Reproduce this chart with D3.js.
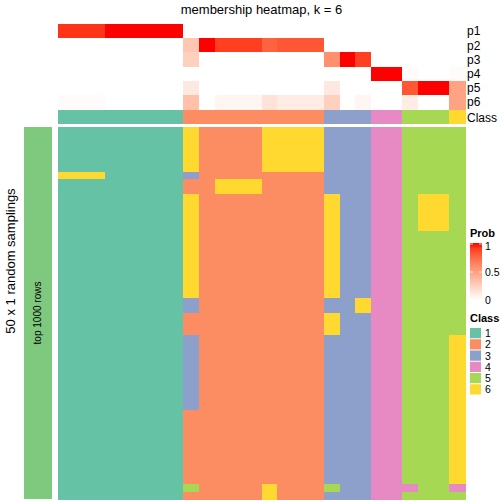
<!DOCTYPE html>
<html><head><meta charset="utf-8">
<script src="https://cdn.jsdelivr.net/npm/d3@7"></script>
<style>body{margin:0;background:#fff}svg{display:block;font-family:"Liberation Sans",Arial,Helvetica,sans-serif}</style>
</head><body><svg id="chart" width="504" height="504"></svg>
<script>
// ---- data ----
const title = "membership heatmap, k = 6";
const probLabels = ["p1","p2","p3","p4","p5","p6"];
const p1 = [0.93,0.93,0.93,1,1,1,1,1, 0,0,0,0,0,0,0,0,0, 0,0,0, 0,0, 0,0,0, 0];
const p2 = [0,0,0,0,0,0,0,0, 0.3,1,0.9,0.9,0.9,0.78,0.82,0.82,0.82, 0,0,0, 0,0, 0,0,0, 0];
const p3 = [0,0,0,0,0,0,0,0, 0.25,0,0,0,0,0,0,0,0, 0.58,1,0.9, 0,0, 0,0,0, 0];
const p4 = [0,0,0,0,0,0,0,0, 0,0,0,0,0,0,0,0,0, 0,0,0, 1,1, 0.02,0,0, 0.02];
const p5 = [0,0,0,0,0,0,0,0, 0.12,0,0,0,0,0,0,0,0, 0.12,0,0, 0,0, 0.82,1,1, 0.48];
const p6 = [0.02,0.02,0.02,0,0,0,0,0, 0.33,0,0.05,0.05,0.05,0.15,0.1,0.1,0.1, 0.25,0,0.05, 0,0, 0.1,0,0, 0.48];
const consensusClass = [1,1,1,1,1,1,1,1, 2,2,2,2,2,2,2,2,2, 3,3,3, 4,4, 5,5,5, 6];
const classLevels = ["1","2","3","4","5","6"];
const classColors = ["#66C2A5","#FC8D62","#8DA0CB","#E78AC3","#A6D854","#FFD92F"];
const probTicks = [0, 0.5, 1];
const samplingLabel = "50 x 1 random samplings";
const rowGroupLabel = "top 1000 rows";
// class of each sample (column) in each of the 50 samplings (rows)
const samplings = [
"11111111622226666333445555","11111111622226666333445555","11111111622226666333445555",
"11111111622226666333445555","11111111622226666333445555","11111111622226666333445555",
"66611111322222222333445555",
"11111111226662222333445555","11111111226662222333445555",
"11111111622222222633445665","11111111622222222633445665","11111111622222222633445665",
"11111111622222222633445665","11111111622222222633445665",
"11111111622222222633445555","11111111622222222633445555","11111111622222222633445555",
"11111111622222222633445555","11111111622222222633445555","11111111622222222633445555",
"11111111622222222633445555","11111111622222222633445555","11111111622222222633445555",
"11111111322222222336445555","11111111322222222336445555",
"11111111222222222633445555","11111111222222222633445555","11111111222222222633445555",
"11111111322222222333445556","11111111322222222333445556","11111111322222222333445556",
"11111111322222222333445556","11111111322222222333445556","11111111322222222333445556",
"11111111322222222333445556","11111111322222222333445556","11111111322222222333445556",
"11111111322222222333445556",
"11111111222222222333445556","11111111222222222333445556","11111111222222222333445556",
"11111111222222222333445556","11111111222222222333445556","11111111222222222333445556",
"11111111222222222333445556","11111111222222222333445556","11111111222222222333445556",
"11111111222222222333445556",
"11111111522226222533444554",
"11111111222226222333445555"
];

// ---- drawing ----
const svg = d3.select("#chart");
const nCols = consensusClass.length;
const cols = d3.range(nCols);
const x = d3.scaleBand().domain(cols).range([58, 465]);
const yProb = d3.scaleBand().domain(probLabels).range([24, 109.3]);
const yClass = [110.3, 124.3];
const yMain = d3.scaleBand().domain(d3.range(samplings.length)).range([127, 499]);
const probColor = d3.scaleLinear().domain([0,1]).range(["#ffffff","#ff0000"]).interpolate(d3.interpolateLab);
const classColor = d3.scaleOrdinal().domain(classLevels).range(classColors);

svg.append("text").attr("x", 261.5).attr("y", 14).attr("text-anchor","middle")
  .attr("font-size", 13).attr("fill","#000").text(title);

const probs = [p1,p2,p3,p4,p5,p6];
probs.forEach((arr, r) => {
  svg.append("g").attr("shape-rendering","crispEdges").selectAll("rect").data(arr).join("rect")
    .attr("x", (d,i) => x(i)).attr("width", x.bandwidth()+0.5)
    .attr("y", yProb(probLabels[r])).attr("height", yProb.bandwidth()+0.5)
    .attr("fill", d => probColor(d));
  svg.append("text").attr("x", 467).attr("y", yProb(probLabels[r]) + yProb.bandwidth()/2 + 4.3)
    .attr("font-size", 12).text(probLabels[r]);
});

svg.append("g").attr("shape-rendering","crispEdges").selectAll("rect").data(consensusClass).join("rect")
  .attr("x", (d,i) => x(i)).attr("width", x.bandwidth()+0.5)
  .attr("y", yClass[0]).attr("height", yClass[1]-yClass[0])
  .attr("fill", d => classColor(String(d)));
svg.append("text").attr("x", 467).attr("y", (yClass[0]+yClass[1])/2 + 4.3)
  .attr("font-size", 12).text("Class");

const cells = [];
samplings.forEach((row, r) => row.split("").forEach((c, i) => cells.push({r, i, c})));
svg.append("g").attr("shape-rendering","crispEdges").selectAll("rect").data(cells).join("rect")
  .attr("x", d => x(d.i)).attr("width", x.bandwidth()+0.5)
  .attr("y", d => yMain(d.r)).attr("height", yMain.bandwidth()+0.5)
  .attr("fill", d => classColor(d.c));

// left row-group bar
svg.append("rect").attr("x", 24).attr("y", 127).attr("width", 28).attr("height", 372).attr("fill", "#7FC97F");
svg.append("text").attr("transform", "translate(41,313) rotate(-90)").attr("text-anchor","middle")
  .attr("font-size", 10).text(rowGroupLabel);
svg.append("text").attr("transform", "translate(15,261) rotate(-90)").attr("text-anchor","middle")
  .attr("font-size", 13).text(samplingLabel);

// Prob legend
svg.append("text").attr("x", 470).attr("y", 237).attr("font-size", 11).attr("font-weight","bold").text("Prob");
const defs = svg.append("defs");
const grad = defs.append("linearGradient").attr("id","pg").attr("x1",0).attr("y1",1).attr("x2",0).attr("y2",0);
d3.range(0, 1.0001, 0.1).forEach(t => grad.append("stop").attr("offset", t).attr("stop-color", probColor(t)));
const yLeg = d3.scaleLinear().domain([0,1]).range([300, 244]);
svg.append("rect").attr("x", 470).attr("y", 243).attr("width", 12).attr("height", 57).attr("fill","url(#pg)");
probTicks.forEach(t => {
  if (t > 0) {
    svg.append("line").attr("x1",470).attr("x2",473).attr("y1",yLeg(t)).attr("y2",yLeg(t)).attr("stroke","#fff").attr("stroke-width",0.8);
    svg.append("line").attr("x1",479).attr("x2",482).attr("y1",yLeg(t)).attr("y2",yLeg(t)).attr("stroke","#fff").attr("stroke-width",0.8);
  }
  svg.append("text").attr("x", 485).attr("y", yLeg(t) + (t === 1 ? 5.5 : 4)).attr("font-size", 10.5).text(String(t));
});

// Class legend
svg.append("text").attr("x", 470).attr("y", 322).attr("font-size", 11).attr("font-weight","bold").text("Class");
const yc = d3.scaleBand().domain(classLevels).range([327.5, 395]);
svg.append("g").selectAll("rect").data(classLevels).join("rect")
  .attr("x", 470).attr("y", d => yc(d)+0.5).attr("width", 11).attr("height", yc.bandwidth()-1)
  .attr("fill", d => classColor(d));
svg.append("g").selectAll("text").data(classLevels).join("text")
  .attr("x", 485).attr("y", d => yc(d) + yc.bandwidth()/2 + 4).attr("font-size", 10.5).text(d => d);
</script></body></html>
